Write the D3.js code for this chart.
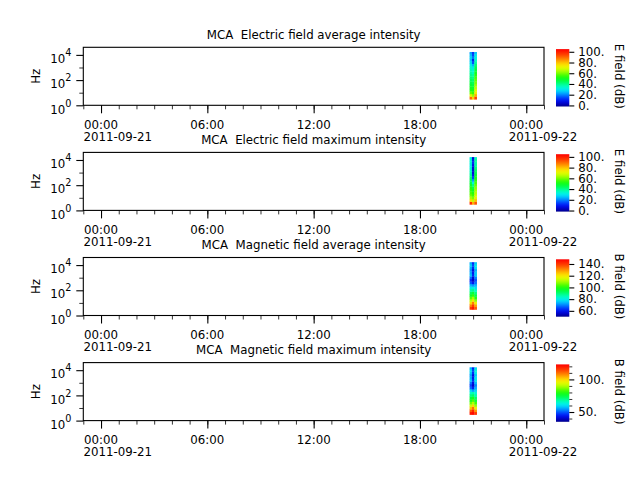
<!DOCTYPE html>
<html><head><meta charset="utf-8">
<script src="https://cdn.jsdelivr.net/npm/d3@7"></script>
<style>
html,body{margin:0;padding:0;background:#fff;}
text{font-family:"DejaVu Sans",sans-serif;fill:#000;}
</style></head>
<body>
<svg id="c" width="640" height="480"></svg>
<script>
// ---------------- data ----------------
const titles = [
  "MCA  Electric field average intensity",
  "MCA  Electric field maximum intensity",
  "MCA  Magnetic field average intensity",
  "MCA  Magnetic field maximum intensity"
];
const cbarLabels = ["E field (dB)", "E field (dB)", "B field (dB)", "B field (dB)"];
const cbarDomains = [[-2, 105], [-2, 105], [50, 148], [35, 123]];
const cbarMajorTicks = [[0, 20, 40, 60, 80, 100], [0, 20, 40, 60, 80, 100], [60, 80, 100, 120, 140], [50, 100]];
const cbarMinorTicks = [[], [], [], [40, 60, 70, 80, 90, 110, 120]];

const timeStart = "2011-09-20T23:00:00Z";
const timeEnd = "2011-09-22T01:00:00Z";
const majorTimeTicks = ["2011-09-21T00:00:00Z", "2011-09-21T06:00:00Z", "2011-09-21T12:00:00Z", "2011-09-21T18:00:00Z", "2011-09-22T00:00:00Z"];
const majorTimeLabels = [["00:00", "2011-09-21"], ["06:00"], ["12:00"], ["18:00"], ["00:00", "2011-09-22"]];

const freqDomain = [1, 40000];
const freqMajorTicks = [1, 100, 10000];
const freqMajorExp = ["0", "2", "4"];
const freqMinorTicks = [10, 1000];

// spectrogram bins
const timeEdges = ["2011-09-21T20:48:00Z", "2011-09-21T20:56:00Z", "2011-09-21T21:04:00Z", "2011-09-21T21:12:00Z"];
const freqEdges = [3, 5, 8, 13, 20, 32, 50, 80, 130, 200, 320, 500, 800, 1300, 2000, 3200, 5000, 8000, 12500, 17000];

// values [freq bin (low->high)][time column]
const eAvg = [
  [90, 78, 95], [70, 62, 82], [58, 54, 74], [52, 50, 70], [50, 48, 66], [48, 46, 63],
  [46, 44, 60], [44, 42, 58], [42, 40, 56], [40, 38, 53], [38, 35, 50], [36, 33, 47],
  [34, 30, 45], [31, 24, 42], [28, 15, 38], [25, 10, 34], [27, 18, 32], [25, 14, 30], [22, 12, 26]
];
const eMax = [
  [98, 82, 92], [76, 66, 80], [64, 60, 72], [59, 55, 69], [56, 52, 66], [54, 49, 64],
  [52, 45, 62], [49, 40, 59], [46, 32, 56], [44, 22, 53], [42, 14, 51], [39, 9, 48],
  [36, 6, 45], [34, 6, 43], [32, 6, 41], [31, 8, 38], [33, 11, 38], [33, 9, 38], [31, 6, 35]
];
const bAvg = [
  [140, 145, 136], [132, 140, 128], [122, 132, 118], [112, 120, 108], [104, 110, 100], [97, 101, 94],
  [92, 95, 89], [86, 88, 83], [80, 82, 78], [74, 72, 74], [66, 60, 69], [62, 55, 66],
  [68, 57, 70], [75, 62, 76], [73, 60, 76], [71, 58, 73], [73, 62, 78], [76, 65, 79], [73, 62, 76]
];
const bMax = [
  [120, 122, 116], [112, 118, 106], [102, 110, 96], [92, 100, 88], [85, 90, 82], [79, 83, 76],
  [75, 78, 72], [70, 72, 67], [65, 67, 63], [59, 55, 59], [51, 45, 56], [48, 40, 53],
  [52, 42, 57], [58, 46, 61], [56, 44, 61], [55, 42, 58], [58, 46, 62], [60, 48, 63], [56, 45, 60]
];
const panelValues = [eAvg, eMax, bAvg, bMax];

const colorStops = ["#00008c", "#0000ff", "#0080ff", "#00ffff", "#00ff80", "#00ff00", "#a0ff00", "#ffff00", "#ffa000", "#ff4000", "#ff0000"];

// ---------------- drawing ----------------
const svg = d3.select("#c");
const L = 83.3, R = 544, H = 58;
const tops = [47.3, 152.4, 257.5, 362.6];
const FS = 11.8;
const interp = d3.interpolateRgbBasis(colorStops);

const x = d3.scaleUtc().domain([new Date(timeStart), new Date(timeEnd)]).range([L, R]);
const hourTicks = d3.utcHour.range(new Date(timeStart), new Date(timeEnd)).concat([new Date(timeEnd)]);

tops.forEach((top, p) => {
  const bottom = top + H;
  const y = d3.scaleLog().domain(freqDomain).range([bottom, top]);
  const color = d3.scaleSequential(interp).domain(cbarDomains[p]);
  const g = svg.append("g");

  // spectrogram cells
  const vals = panelValues[p];
  const cells = [];
  vals.forEach((row, fi) => row.forEach((v, ti) => cells.push({fi, ti, v})));
  g.selectAll("rect.cell").data(cells).join("rect")
    .attr("class", "cell")
    .attr("x", d => x(new Date(timeEdges[d.ti])))
    .attr("width", d => x(new Date(timeEdges[d.ti + 1])) - x(new Date(timeEdges[d.ti])) + 0.3)
    .attr("y", d => y(freqEdges[d.fi + 1]))
    .attr("height", d => y(freqEdges[d.fi]) - y(freqEdges[d.fi + 1]) + 0.3)
    .attr("fill", d => color(d.v));

  // frame
  g.append("rect").attr("x", L).attr("y", top).attr("width", R - L).attr("height", H)
    .attr("fill", "none").attr("stroke", "#000").attr("stroke-width", 1.1);

  // x minor ticks
  const xMinor = d3.axisBottom(x).tickValues(hourTicks).tickSize(4).tickFormat("");
  g.append("g").attr("transform", `translate(0,${bottom})`).call(xMinor)
    .call(a => a.select(".domain").remove())
    .call(a => a.selectAll("line").attr("stroke-width", 0.8));
  // x major ticks
  const xMajor = d3.axisBottom(x).tickValues(majorTimeTicks.map(t => new Date(t))).tickSize(8).tickFormat("");
  g.append("g").attr("transform", `translate(0,${bottom})`).call(xMajor)
    .call(a => a.select(".domain").remove())
    .call(a => a.selectAll("line").attr("stroke-width", 1.1));
  majorTimeTicks.forEach((t, i) => {
    majorTimeLabels[i].forEach((s, k) => {
      const xx = x(new Date(t));
      g.append("text").attr("x", k === 0 ? xx : xx - 17.6).attr("y", bottom + 23.2 + 12 * k)
        .attr("text-anchor", k === 0 ? "middle" : "start")
        .attr("font-size", FS).text(s);
    });
  });

  // y ticks
  const yMinor = d3.axisLeft(y).tickValues(freqMinorTicks).tickSize(4).tickFormat("");
  g.append("g").attr("transform", `translate(${L},0)`).call(yMinor)
    .call(a => a.select(".domain").remove())
    .call(a => a.selectAll("line").attr("stroke-width", 0.8));
  const yMajor = d3.axisLeft(y).tickValues(freqMajorTicks).tickSize(7).tickFormat("");
  g.append("g").attr("transform", `translate(${L},0)`).call(yMajor)
    .call(a => a.select(".domain").remove())
    .call(a => a.selectAll("line").attr("stroke-width", 1.1));
  freqMajorTicks.forEach((f, i) => {
    const t = g.append("text").attr("x", L - 12).attr("y", y(f) + 8.2).attr("text-anchor", "end").attr("font-size", FS);
    t.append("tspan").text("10");
    t.append("tspan").attr("dy", -7).attr("font-size", FS * 0.82).text(freqMajorExp[i]);
  });
  g.append("text").attr("transform", `translate(39.5,${(top + bottom) / 2}) rotate(-90)`)
    .attr("text-anchor", "middle").attr("font-size", FS).text("Hz");

  // title
  g.append("text").attr("x", (L + R) / 2).attr("y", top - 8.5).attr("text-anchor", "middle")
    .attr("font-size", FS).style("white-space", "pre").attr("xml:space", "preserve").text(titles[p]);

  // colorbar
  const cbTop = top + 1.8, cbBot = bottom + 1.2, cbL = 556, cbR = 569.3;
  const gradId = "grad" + p;
  const grad = svg.append("defs").append("linearGradient").attr("id", gradId)
    .attr("x1", 0).attr("y1", 1).attr("x2", 0).attr("y2", 0);
  d3.range(0, 1.0001, 0.02).forEach(o => grad.append("stop").attr("offset", o).attr("stop-color", interp(o)));
  g.append("rect").attr("x", cbL).attr("y", cbTop).attr("width", cbR - cbL).attr("height", cbBot - cbTop)
    .attr("fill", `url(#${gradId})`);
  const cy = d3.scaleLinear().domain(cbarDomains[p]).range([cbBot, cbTop]);
  const cbMaj = d3.axisRight(cy).tickValues(cbarMajorTicks[p]).tickSize(5).tickPadding(4).tickFormat(d => d + ".");
  g.append("g").attr("transform", `translate(${cbR},0)`).call(cbMaj)
    .call(a => a.select(".domain").remove())
    .call(a => a.selectAll("line").attr("stroke-width", 1.1))
    .call(a => a.selectAll("text").attr("font-size", FS).attr("font-family", "DejaVu Sans").attr("fill", "#000"));
  if (cbarMinorTicks[p].length) {
    const cbMin = d3.axisRight(cy).tickValues(cbarMinorTicks[p]).tickSize(3).tickFormat("");
    g.append("g").attr("transform", `translate(${cbR},0)`).call(cbMin)
      .call(a => a.select(".domain").remove())
      .call(a => a.selectAll("line").attr("stroke-width", 0.8));
  }
  g.append("text").attr("transform", `translate(614.5,${(top + bottom) / 2}) rotate(90)`)
    .attr("text-anchor", "middle").attr("font-size", FS).text(cbarLabels[p]);
});
</script>
</body></html>
